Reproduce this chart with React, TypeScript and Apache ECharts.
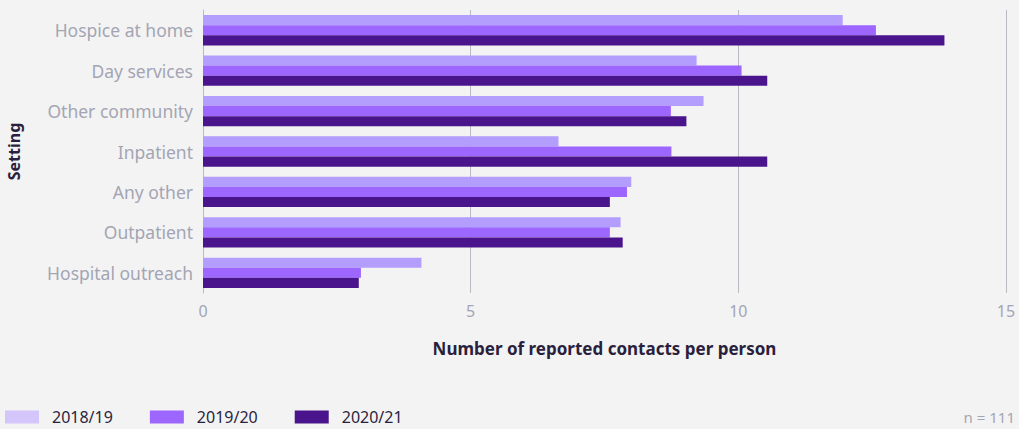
import React, { useEffect, useRef } from "react";
import * as echarts from "echarts";

const categories = [
  "Hospice at home",
  "Day services",
  "Other community",
  "Inpatient",
  "Any other",
  "Outpatient",
  "Hospital outreach",
];
const seriesNames = ["2018/19", "2019/20", "2020/21"];
const values2018 = [11.95, 9.22, 9.35, 6.64, 8.0, 7.8, 4.08];
const values2019 = [12.57, 10.06, 8.74, 8.75, 7.92, 7.6, 2.95];
const values2020 = [13.85, 10.54, 9.03, 10.54, 7.6, 7.84, 2.91];
const barColors = ["#b39dfd", "#9d66ff", "#4a148c"];
const legendColors = ["#d4c6fb", "#9d66ff", "#4a148c"];
const xTicks = [0, 5, 10, 15];

const FONT = "'Noto Sans', Lato, sans-serif";

export default function App() {
  const ref = useRef<HTMLDivElement>(null);
  useEffect(() => {
    document.body.style.margin = "0";
    document.body.style.background = "#f3f3f3";
    const chart = echarts.init(ref.current!, null, { renderer: "svg" });
    const allValues = [values2018, values2019, values2020];
    chart.setOption({
      animation: false,
      backgroundColor: "#f3f3f3",
      textStyle: { fontFamily: FONT },
      grid: {
        left: 203,
        right: 13,
        top: 10,
        bottom: 136,
        containLabel: false,
        outerBoundsMode: "none",
      },
      legend: {
        left: 5,
        top: 409,
        padding: 0,
        icon: "rect",
        itemWidth: 34,
        itemHeight: 13,
        itemGap: 37,
        textStyle: { color: "#2a1f3d", fontSize: 16, fontFamily: FONT, padding: [0, 0, 0, 8] },
        data: seriesNames.map((n, i) => ({ name: n, itemStyle: { color: legendColors[i] } })),
      },
      xAxis: {
        type: "value",
        min: xTicks[0],
        max: xTicks[xTicks.length - 1],
        interval: 5,
        name: "Number of reported contacts per person",
        nameLocation: "middle",
        nameGap: 47,
        nameTextStyle: { color: "#2a1f3d", fontSize: 17, fontWeight: "bold", fontFamily: FONT },
        axisLabel: { color: "#a3a5b3", fontSize: 16, margin: 10, fontFamily: FONT },
        axisLine: { show: false },
        axisTick: { show: false },
        splitLine: { show: true, lineStyle: { color: "#b9bac2", width: 1 } },
      },
      yAxis: {
        type: "category",
        inverse: true,
        data: categories,
        name: "Setting",
        nameLocation: "middle",
        nameGap: 181,
        nameRotate: 90,
        nameTextStyle: { color: "#2a1f3d", fontSize: 16, fontWeight: "bold", fontFamily: FONT },
        axisLabel: { color: "#a3a5b3", fontSize: 17.5, margin: 10, fontFamily: FONT },
        axisLine: { show: true, lineStyle: { color: "#b9bac2", width: 1 } },
        axisTick: { show: false },
      },
      series: allValues.map((vals, i) => ({
        name: seriesNames[i],
        type: "bar",
        data: vals,
        barGap: "0%",
        barCategoryGap: "25%",
        itemStyle: { color: barColors[i] },
      })),
      graphic: [
        {
          type: "text",
          right: 4,
          top: 409,
          style: { text: "n = 111", fill: "#a3a5b3", fontSize: 15, fontFamily: FONT },
        },
      ],
    });
    return () => chart.dispose();
  }, []);
  return <div ref={ref} style={{ width: 1019, height: 429 }} />;
}
